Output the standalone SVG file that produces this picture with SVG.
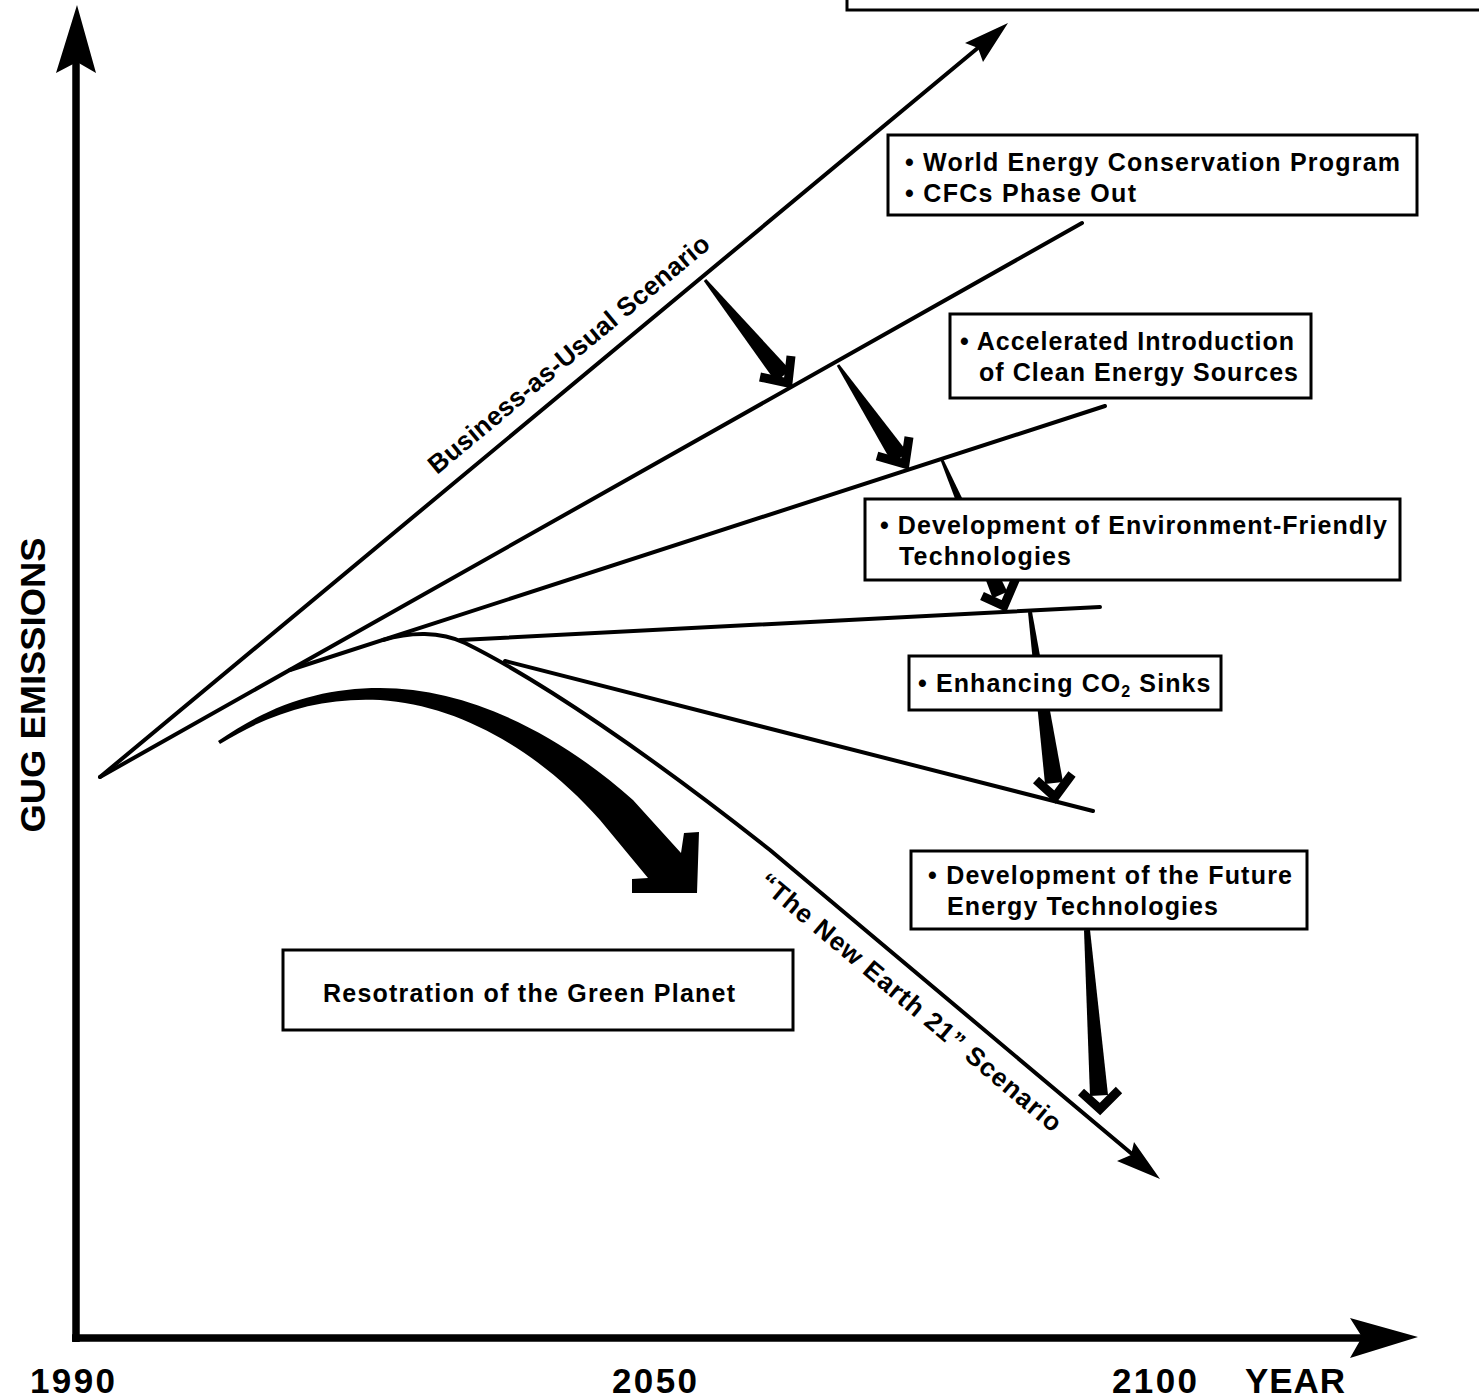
<svg xmlns="http://www.w3.org/2000/svg" width="1479" height="1400" viewBox="0 0 1479 1400">
<style>
.ln{fill:none;stroke:#000;stroke-width:4;stroke-linecap:round;stroke-linejoin:round}
.ax{fill:none;stroke:#000;stroke-width:7.5}
.box{fill:#fff;stroke:#000;stroke-width:3}
.fill{fill:#000;stroke:none}
.chev{fill:none;stroke:#000;stroke-width:9;stroke-linejoin:miter;stroke-miterlimit:10}
.t{font-family:'Liberation Sans',Arial,Helvetica,sans-serif;font-weight:bold;font-size:25px;fill:#000}
.lbl{font-family:'Liberation Sans',Arial,Helvetica,sans-serif;font-weight:bold;font-size:26px;fill:#000}
.big{font-family:'Liberation Sans',Arial,Helvetica,sans-serif;font-weight:bold;font-size:35px;fill:#000}
</style>
<rect width="1479" height="1400" fill="#fff"/>

<g id="axes">
  <line class="ax" x1="76" y1="1342" x2="76" y2="60"/>
  <polygon class="fill" points="77,5 96,73 77,62 56,73"/>
  <line class="ax" x1="72" y1="1338" x2="1365" y2="1338"/>
  <polygon class="fill" points="1418,1337 1350,1358 1362,1337 1350,1318"/>
</g>

<g id="connectors">
  <path class="ln" d="M100,777 L985,42"/>
  <polygon class="fill" points="1008,23 983,62 978,48 965,43"/>
  <path class="ln" d="M100,777 L1082,223"/>
  <path class="ln" d="M290,670 L1105,406"/>
  <path class="ln" d="M460,640 L1100,607"/>
  <path class="ln" d="M505,661 L1093,811"/>
  <path class="ln" d="M383,640 C410,632 440,631 465,643 C540,680 650,755 770,850 L1138,1159"/>
  <polygon class="fill" points="1160,1179 1117,1161 1131,1155 1134,1142"/>

  <path class="fill" d="M218,741 C270,705 320,688 380,688 C470,688 560,735 633,800 L681,853 L684,833 L699,832 L697,893 L632,893 L632,879 L648,878 L600,820 C540,752 460,705 380,700 C320,697 270,713 220,744 Z"/>

  <polygon class="fill" points="706.2,278.9 703.8,281.1 775.8,382 790.2,370"/>
  <polyline class="chev" points="760,377 788,383 791,356"/>

  <polygon class="fill" points="839.2,364.2 836.8,365.8 892.4,463.4 907.6,452.6"/>
  <polyline class="chev" points="877,456 905,464 909,437"/>

  <polygon class="fill" points="943.4,459.4 940.6,460.6 992.7,598.2 1007.3,591.8"/>
  <polyline class="chev" points="982,596 1004,606 1016,578"/>

  <polygon class="fill" points="1032,611.7 1028,612.3 1045,784 1063,782"/>
  <polyline class="chev" points="1036,780 1055,797 1072,774"/>

  <polygon class="fill" points="1090,929.8 1084,930.2 1090,1096 1108,1095"/>
  <polyline class="chev" points="1081,1092 1100,1109 1119,1090"/>
</g>

<g id="node-top">
  <rect class="box" x="847" y="-12" width="645" height="22" stroke-width="4"/>
</g>

<g id="node-conservation">
  <rect class="box" x="888" y="135" width="529" height="80"/>
  <text class="t" x="905" y="171" textLength="495">• World Energy Conservation Program</text>
  <text class="t" x="905" y="202" textLength="231">• CFCs Phase Out</text>
</g>

<g id="node-clean">
  <rect class="box" x="950" y="314" width="361" height="84"/>
  <text class="t" x="960" y="350" textLength="334">• Accelerated Introduction</text>
  <text class="t" x="979" y="381" textLength="319">of Clean Energy Sources</text>
</g>

<g id="node-envtech">
  <rect class="box" x="865" y="499" width="535" height="81"/>
  <text class="t" x="880" y="534" textLength="507">• Development of Environment-Friendly</text>
  <text class="t" x="899" y="565" textLength="172">Technologies</text>
</g>

<g id="node-sinks">
  <rect class="box" x="909" y="656" width="312" height="54"/>
  <text class="t" x="918" y="692" letter-spacing="1.1">• Enhancing CO<tspan font-size="16" dy="5">2</tspan><tspan dy="-5"> Sinks</tspan></text>
</g>

<g id="node-future">
  <rect class="box" x="911" y="851" width="396" height="78"/>
  <text class="t" x="928" y="884" textLength="364">• Development of the Future</text>
  <text class="t" x="947" y="915" textLength="271">Energy Technologies</text>
</g>

<g id="node-green">
  <rect class="box" x="283" y="950" width="510" height="80"/>
  <text class="t" x="323" y="1002" textLength="412">Resotration of the Green Planet</text>
</g>

<g id="labels">
  <text class="lbl" transform="translate(437,475) rotate(-39.71)" textLength="357">Business-as-Usual Scenario</text>
  <text class="lbl" transform="translate(757,885) rotate(40)" textLength="386">“The New Earth 21” Scenario</text>
  <text class="big" transform="translate(45,685) rotate(-90)" text-anchor="middle" font-size="42" textLength="295" lengthAdjust="spacingAndGlyphs">GUG EMISSIONS</text>
  <text class="big" x="30" y="1393" textLength="85">1990</text>
  <text class="big" x="612" y="1393" textLength="85">2050</text>
  <text class="big" x="1112" y="1393" textLength="85">2100</text>
  <text class="big" x="1245" y="1393" textLength="100">YEAR</text>
</g>
</svg>
